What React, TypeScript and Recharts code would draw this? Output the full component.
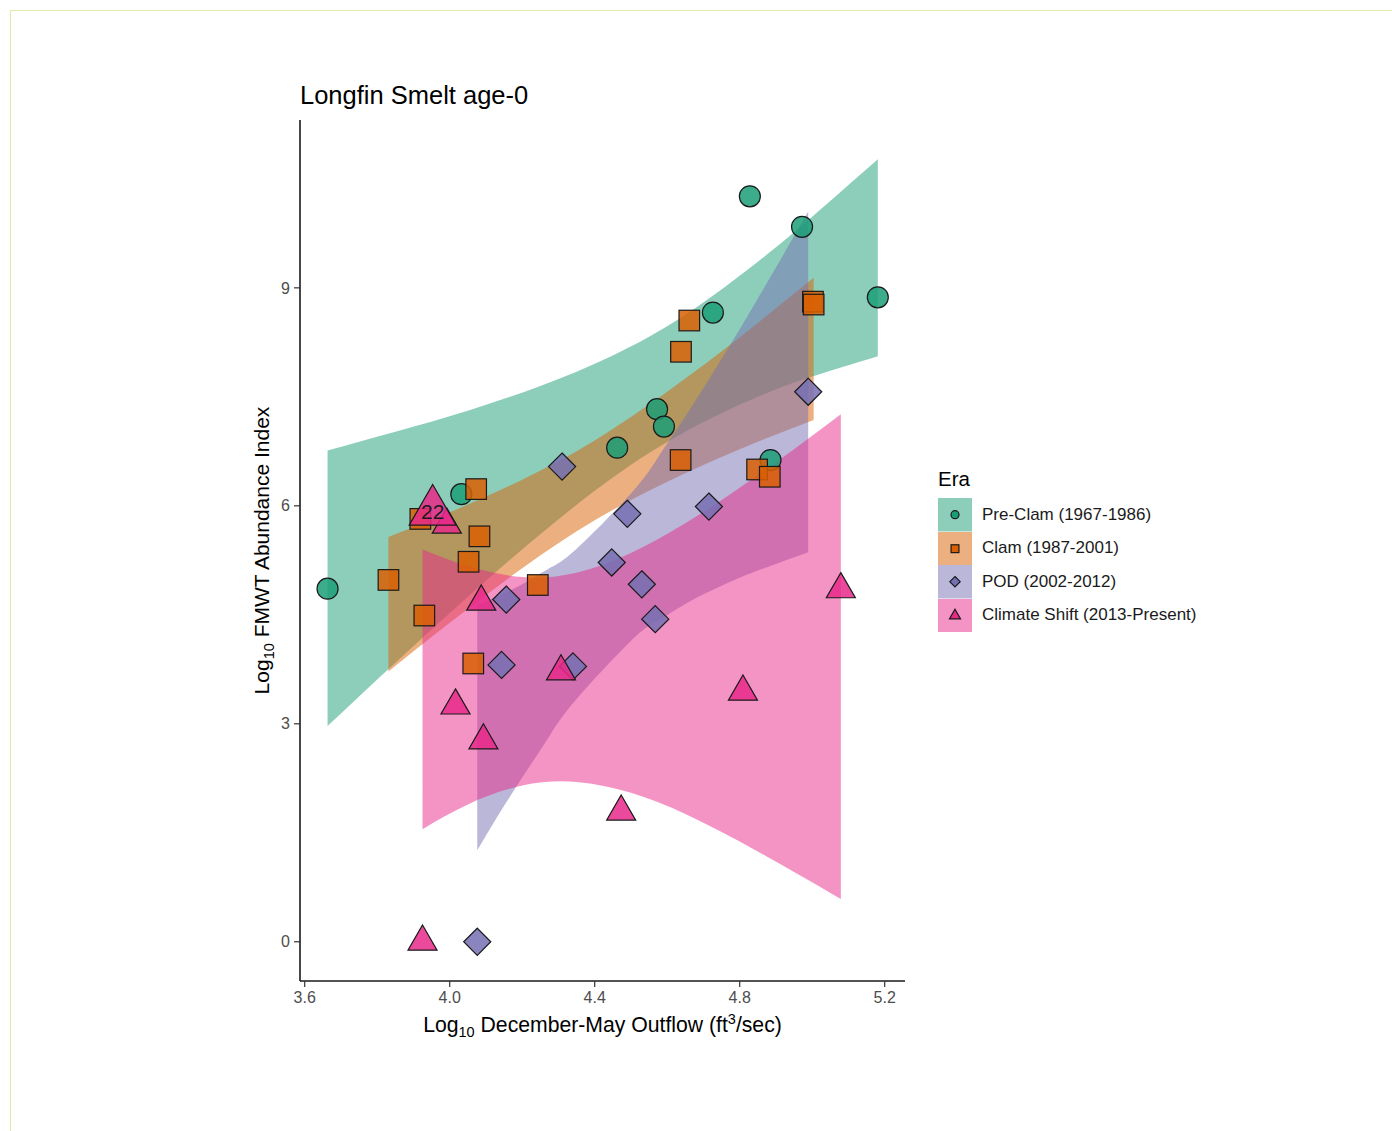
import React from 'react'
import { ComposedChart, Area, Scatter, XAxis, YAxis, Label } from 'recharts'

const FONT = '"Liberation Sans", Arial, sans-serif'

const ERA_NAMES = ['Pre-Clam (1967-1986)', 'Clam (1987-2001)', 'POD (2002-2012)', 'Climate Shift (2013-Present)']
const ERA_COLORS = ['#1B9E77', '#D95F02', '#7570B3', '#E7298A']
const ERA_SHAPES = ['circle', 'square', 'diamond', 'triangle']

const X_TICKS = [3.6, 4.0, 4.4, 4.8, 5.2]
const Y_TICKS = [0, 3, 6, 9]

// observed years, log10 outflow vs log10 index
const preClam = [
  { x: 3.663, y: 4.86 }, { x: 4.032, y: 6.16 }, { x: 4.462, y: 6.8 }, { x: 4.572, y: 7.33 },
  { x: 4.591, y: 7.09 }, { x: 4.726, y: 8.66 }, { x: 4.828, y: 10.26 }, { x: 4.972, y: 9.84 },
  { x: 5.181, y: 8.87 }, { x: 4.885, y: 6.63 },
]
const clam = [
  { x: 3.831, y: 4.98 }, { x: 3.93, y: 4.49 }, { x: 3.919, y: 5.82 }, { x: 4.073, y: 6.23 },
  { x: 4.082, y: 5.58 }, { x: 4.052, y: 5.23 }, { x: 4.243, y: 4.91 }, { x: 4.065, y: 3.83 },
  { x: 4.638, y: 8.12 }, { x: 4.661, y: 8.55 }, { x: 4.637, y: 6.63 }, { x: 4.848, y: 6.5 },
  { x: 4.883, y: 6.4 }, { x: 5.002, y: 8.81 }, { x: 5.004, y: 8.77 },
]
const pod = [
  { x: 4.31, y: 6.54 }, { x: 4.49, y: 5.89 }, { x: 4.447, y: 5.22 }, { x: 4.53, y: 4.92 },
  { x: 4.156, y: 4.71 }, { x: 4.143, y: 3.81 }, { x: 4.34, y: 3.79 }, { x: 4.715, y: 5.99 },
  { x: 4.567, y: 4.44 }, { x: 4.989, y: 7.57 }, { x: 4.076, y: 0 },
]
const climate = [
  { x: 3.992, y: 5.74 }, { x: 4.087, y: 4.68 }, { x: 4.016, y: 3.25 }, { x: 4.093, y: 2.77 },
  { x: 4.307, y: 3.72 }, { x: 4.809, y: 3.44 }, { x: 4.473, y: 1.79 }, { x: 5.079, y: 4.85 },
  { x: 3.925, y: 0 },
]
const highlight = [{ x: 3.953, y: 5.92, label: '22' }]

// confidence ribbons (lower / upper) read along each era's fit
const preClamBand = [
  { x: 3.663, lo: 2.97, hi: 6.76 }, { x: 3.85, lo: 3.84, hi: 7.02 }, { x: 4.05, lo: 4.75, hi: 7.31 },
  { x: 4.25, lo: 5.61, hi: 7.65 }, { x: 4.45, lo: 6.39, hi: 8.07 }, { x: 4.65, lo: 7.02, hi: 8.63 },
  { x: 4.85, lo: 7.5, hi: 9.36 }, { x: 5.0, lo: 7.78, hi: 9.98 }, { x: 5.181, lo: 8.06, hi: 10.77 },
]
const clamBand = [
  { x: 3.831, lo: 3.72, hi: 5.57 }, { x: 4.0, lo: 4.39, hi: 5.91 }, { x: 4.2, lo: 5.14, hi: 6.36 },
  { x: 4.4, lo: 5.8, hi: 6.9 }, { x: 4.6, lo: 6.33, hi: 7.57 }, { x: 4.8, lo: 6.78, hi: 8.32 },
  { x: 5.004, lo: 7.18, hi: 9.14 },
]
const podBand = [
  { x: 4.076, lo: 1.26, hi: 4.63 }, { x: 4.13, lo: 1.71, hi: 4.75 }, { x: 4.2, lo: 2.26, hi: 4.92 },
  { x: 4.275, lo: 2.83, hi: 5.14 }, { x: 4.35, lo: 3.34, hi: 5.41 }, { x: 4.5, lo: 4.14, hi: 6.17 },
  { x: 4.575, lo: 4.42, hi: 6.67 }, { x: 4.65, lo: 4.65, hi: 7.23 }, { x: 4.725, lo: 4.84, hi: 7.82 },
  { x: 4.8, lo: 5.01, hi: 8.43 }, { x: 4.9, lo: 5.2, hi: 9.28 }, { x: 4.989, lo: 5.36, hi: 10.05 },
]
const climateBand = [
  { x: 3.925, lo: 1.55, hi: 5.4 }, { x: 4.05, lo: 1.89, hi: 5.17 }, { x: 4.2, lo: 2.15, hi: 5.02 },
  { x: 4.35, lo: 2.2, hi: 5.08 }, { x: 4.5, lo: 2.05, hi: 5.35 }, { x: 4.65, lo: 1.76, hi: 5.76 },
  { x: 4.8, lo: 1.38, hi: 6.25 }, { x: 4.95, lo: 0.96, hi: 6.78 }, { x: 5.079, lo: 0.59, hi: 7.26 },
]

const STROKE = '#1a1a1a'

function Marker({ kind, cx, cy, fill, r = 10.5, opacity = 0.85 }: any) {
  const common = { fill, fillOpacity: opacity, stroke: STROKE, strokeWidth: 1.2 }
  if (kind === 'circle') return <circle cx={cx} cy={cy} r={r} {...common} />
  if (kind === 'square') return <rect x={cx - r * 0.98} y={cy - r * 0.98} width={r * 1.96} height={r * 1.96} {...common} />
  if (kind === 'diamond') {
    const d = r * 1.29
    return <polygon points={`${cx},${cy - d} ${cx + d},${cy} ${cx},${cy + d} ${cx - d},${cy}`} {...common} />
  }
  // R-style triangle: apex 1.555R above centre, base 0.778R below
  const t = r * 1.026
  return (
    <polygon
      points={`${cx},${cy - 1.555 * t} ${cx + 1.347 * t},${cy + 0.778 * t} ${cx - 1.347 * t},${cy + 0.778 * t}`}
      {...common}
    />
  )
}

const shapeFor = (i: number) => (p: any) => <Marker kind={ERA_SHAPES[i]} cx={p.cx} cy={p.cy} fill={ERA_COLORS[i]} />

const highlightShape = (p: any) => (
  <g>
    <Marker kind="triangle" cx={p.cx} cy={p.cy} r={17} fill={ERA_COLORS[3]} />
    <text x={p.cx} y={p.cy} textAnchor="middle" dominantBaseline="central" fontFamily={FONT} fontSize={21} fill={STROKE}>
      {p.payload.label}
    </text>
  </g>
)

const range = (d: any) => [d.lo, d.hi]

function Legend() {
  return (
    <div style={{ position: 'absolute', left: 938, top: 469, fontFamily: FONT }}>
      <div style={{ fontSize: 20.5, lineHeight: '20px', color: '#000', marginBottom: 9 }}>Era</div>
      {ERA_NAMES.map((name, i) => (
        <div key={name} style={{ display: 'flex', alignItems: 'center', height: 33.5 }}>
          <svg width={34} height={33.5} style={{ display: 'block' }}>
            <rect x={0} y={0} width={34} height={33.5} fill={ERA_COLORS[i]} fillOpacity={0.5} />
            <Marker kind={ERA_SHAPES[i]} cx={17} cy={16.7} r={4} fill={ERA_COLORS[i]} opacity={1} />
          </svg>
          <span style={{ marginLeft: 10, fontSize: 17, color: '#1a1a1a' }}>{name}</span>
        </div>
      ))}
    </div>
  )
}

export default function App() {
  const tickStyle = { fill: '#4d4d4d', fontSize: 16, fontFamily: FONT }
  const axisLine = { stroke: STROKE, strokeWidth: 1.6 }
  const tickLine = { stroke: '#333', strokeWidth: 1.2 }
  return (
    <div style={{ position: 'absolute', left: 0, top: 0, width: 1392, height: 1131, background: '#fff' }}>
      <div
        style={{
          position: 'absolute', left: 10, top: 10, right: 0, bottom: 0,
          borderTop: '1px solid #e4e7ad', borderLeft: '1px solid #e4e7ad',
        }}
      />
      <div style={{ position: 'absolute', left: 300, top: 83, fontFamily: FONT, fontSize: 25.5, lineHeight: '25px', color: '#000' }}>
        Longfin Smelt age-0
      </div>
      <div style={{ position: 'absolute', left: 0, top: 0 }}>
        <ComposedChart width={1392} height={1131} margin={{ top: 120, right: 487, bottom: 80, left: 250 }}>
          <XAxis
            type="number"
            dataKey="x"
            domain={[3.587, 5.256]}
            ticks={X_TICKS}
            allowDataOverflow
            height={70}
            tickSize={6}
            tickMargin={5}
            tick={tickStyle}
            axisLine={axisLine}
            tickLine={tickLine}
            tickFormatter={(v: number) => v.toFixed(1)}
          >
            <Label
              content={({ viewBox }: any) => (
                <text x={viewBox.x + viewBox.width / 2} y={1032} textAnchor="middle" fontFamily={FONT} fontSize={21.2} fill="#000">
                  Log<tspan fontSize={14.5} dy={5}>10</tspan>
                  <tspan dy={-5}> December-May Outflow (ft</tspan>
                  <tspan fontSize={14.5} dy={-8}>3</tspan>
                  <tspan dy={8}>/sec)</tspan>
                </text>
              )}
            />
          </XAxis>
          <YAxis
            type="number"
            dataKey="y"
            domain={[-0.54, 11.31]}
            ticks={Y_TICKS}
            allowDataOverflow
            width={50}
            tickSize={6}
            tickMargin={4}
            tick={tickStyle}
            axisLine={axisLine}
            tickLine={tickLine}
          >
            <Label
              content={({ viewBox }: any) => {
                const cy = viewBox.y + viewBox.height / 2
                return (
                  <text x={269} y={cy} transform={`rotate(-90 269 ${cy})`} textAnchor="middle" fontFamily={FONT} fontSize={21} fill="#000">
                    Log<tspan fontSize={14.5} dy={5}>10</tspan>
                    <tspan dy={-5}> FMWT Abundance Index</tspan>
                  </text>
                )
              }}
            />
          </YAxis>

          <Area data={preClamBand} dataKey={range} type="natural" stroke="none" fill={ERA_COLORS[0]} fillOpacity={0.5} dot={false} activeDot={false} isAnimationActive={false} />
          <Area data={clamBand} dataKey={range} type="natural" stroke="none" fill={ERA_COLORS[1]} fillOpacity={0.5} dot={false} activeDot={false} isAnimationActive={false} />
          <Area data={podBand} dataKey={range} type="natural" stroke="none" fill={ERA_COLORS[2]} fillOpacity={0.5} dot={false} activeDot={false} isAnimationActive={false} />
          <Area data={climateBand} dataKey={range} type="natural" stroke="none" fill={ERA_COLORS[3]} fillOpacity={0.5} dot={false} activeDot={false} isAnimationActive={false} />

          <Scatter data={preClam} dataKey="y" shape={shapeFor(0)} isAnimationActive={false} />
          <Scatter data={clam} dataKey="y" shape={shapeFor(1)} isAnimationActive={false} />
          <Scatter data={pod} dataKey="y" shape={shapeFor(2)} isAnimationActive={false} />
          <Scatter data={climate} dataKey="y" shape={shapeFor(3)} isAnimationActive={false} />
          <Scatter data={highlight} dataKey="y" shape={highlightShape} isAnimationActive={false} />
        </ComposedChart>
      </div>
      <Legend />
    </div>
  )
}
